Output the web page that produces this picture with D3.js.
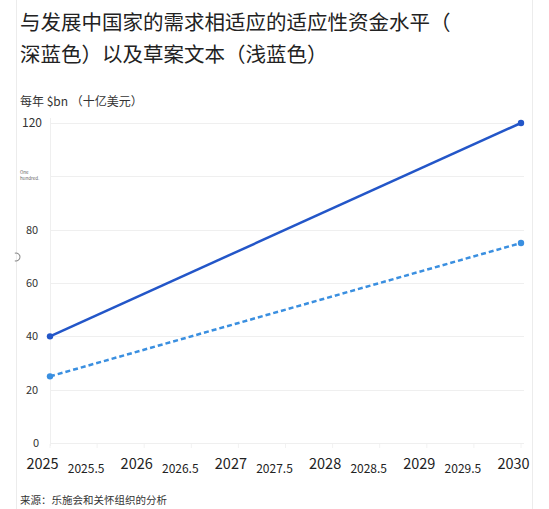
<!DOCTYPE html>
<html>
<head>
<meta charset="utf-8">
<script src="https://cdn.jsdelivr.net/npm/d3@7"></script>
<style>
  body { margin: 0; background: #fff; }
  svg { font-family: "Noto Sans CJK SC", "Noto Sans", sans-serif; }
</style>
</head>
<body>
<svg id="chart" width="549" height="509"></svg>
<script>
// data
var years = [2025, 2030];
var darkVals = [40, 120];   // 适应性资金水平 (深蓝色)
var lightVals = [25, 75];   // 草案文本 (浅蓝色)
var yTicks = [0, 20, 40, 60, 80, 100, 120];
var xTicks = [2025, 2025.5, 2026, 2026.5, 2027, 2027.5, 2028, 2028.5, 2029, 2029.5, 2030];

var svg = d3.select("#chart");

// card edges
svg.append("line").attr("x1", 16.5).attr("x2", 16.5).attr("y1", 0).attr("y2", 509)
  .attr("stroke", "#ececec");
svg.append("line").attr("x1", 532.5).attr("x2", 532.5).attr("y1", 0).attr("y2", 509)
  .attr("stroke", "#ececec");

// title
var title = svg.append("text").attr("x", 20).attr("fill", "#222").style("font-size", "20.5px");
title.append("tspan").attr("x", 20).attr("y", 30).text("与发展中国家的需求相适应的适应性资金水平（");
title.append("tspan").attr("x", 20).attr("y", 62).text("深蓝色）以及草案文本（浅蓝色）");

svg.append("text").attr("x", 20).attr("y", 106).attr("fill", "#333")
  .style("font-size", "12px").text("每年 $bn （十亿美元）");

var x = d3.scaleLinear().domain([2025, 2030]).range([50, 521]);
var y = d3.scaleLinear().domain([0, 120]).range([443, 123]);

// grid
svg.append("g").selectAll("line").data(yTicks).enter().append("line")
  .attr("x1", 50).attr("x2", 524)
  .attr("y1", function(d){ return Math.round(y(d)) + 0.5 })
  .attr("y2", function(d){ return Math.round(y(d)) + 0.5 })
  .attr("stroke", "#efefef");
svg.append("line").attr("x1", 50.5).attr("x2", 50.5).attr("y1", 118).attr("y2", 446)
  .attr("stroke", "#efefef");

// tiny x tick marks
svg.append("g").selectAll("line").data(xTicks).enter().append("line")
  .attr("x1", function(d){ return x(d) }).attr("x2", function(d){ return x(d) })
  .attr("y1", 444).attr("y2", 448).attr("stroke", "#f2f2f2");

// y labels (100 is replaced by a tiny note)
svg.append("g").selectAll("text").data(yTicks.filter(function(d){ return d != 100 })).enter()
  .append("text")
  .attr("x", function(d){ return d == 0 ? 36 : 32 })
  .attr("y", function(d){ return y(d) + 4 })
  .attr("text-anchor", "middle").attr("fill", "#333")
  .style("font-size", function(d){ return d == 120 ? "12px" : "11px" })
  .text(function(d){ return d });
var note = svg.append("text").attr("fill", "#666").style("font-size", "4.5px");
note.append("tspan").attr("x", 20).attr("y", 174).text("One");
note.append("tspan").attr("x", 20).attr("y", 180).text("hundred.");

// stray spinner arc on the left edge
svg.append("path")
  .attr("transform", "translate(16,257)")
  .attr("d", d3.arc().innerRadius(3.5).outerRadius(4.5).startAngle(-0.3).endAngle(Math.PI + 0.3)())
  .attr("fill", "#888");

// x labels (sit a little left of their tick)
svg.append("g").selectAll("text").data(xTicks).enter().append("text")
  .attr("x", function(d){ return x(d) - (d % 1 == 0 ? 7.5 : 11) })
  .attr("y", function(d){ return d % 1 == 0 ? 469 : 473 })
  .attr("text-anchor", "middle").attr("fill", "#222")
  .style("font-size", function(d){ return d % 1 == 0 ? "14.5px" : "12px" })
  .text(function(d){ return d });

// lines
var dark = years.map(function(d, i){ return {x: d, y: darkVals[i]} });
var light = years.map(function(d, i){ return {x: d, y: lightVals[i]} });
var line = d3.line().x(function(d){ return x(d.x) }).y(function(d){ return y(d.y) });

svg.append("path").datum(light).attr("d", line)
  .attr("fill", "none").attr("stroke", "#3a8fe0").attr("stroke-width", 2.5)
  .attr("stroke-dasharray", "5,3");
svg.append("path").datum(dark).attr("d", line)
  .attr("fill", "none").attr("stroke", "#2356c8").attr("stroke-width", 2.5);

svg.append("g").selectAll("circle").data(light).enter().append("circle")
  .attr("cx", function(d){ return x(d.x) }).attr("cy", function(d){ return y(d.y) })
  .attr("r", 3.2).attr("fill", "#3a8fe0");
svg.append("g").selectAll("circle").data(dark).enter().append("circle")
  .attr("cx", function(d){ return x(d.x) }).attr("cy", function(d){ return y(d.y) })
  .attr("r", 3.2).attr("fill", "#2356c8");

svg.append("text").attr("x", 20).attr("y", 504).attr("fill", "#333")
  .style("font-size", "10.5px").text("来源：乐施会和关怀组织的分析");
</script>
</body>
</html>
